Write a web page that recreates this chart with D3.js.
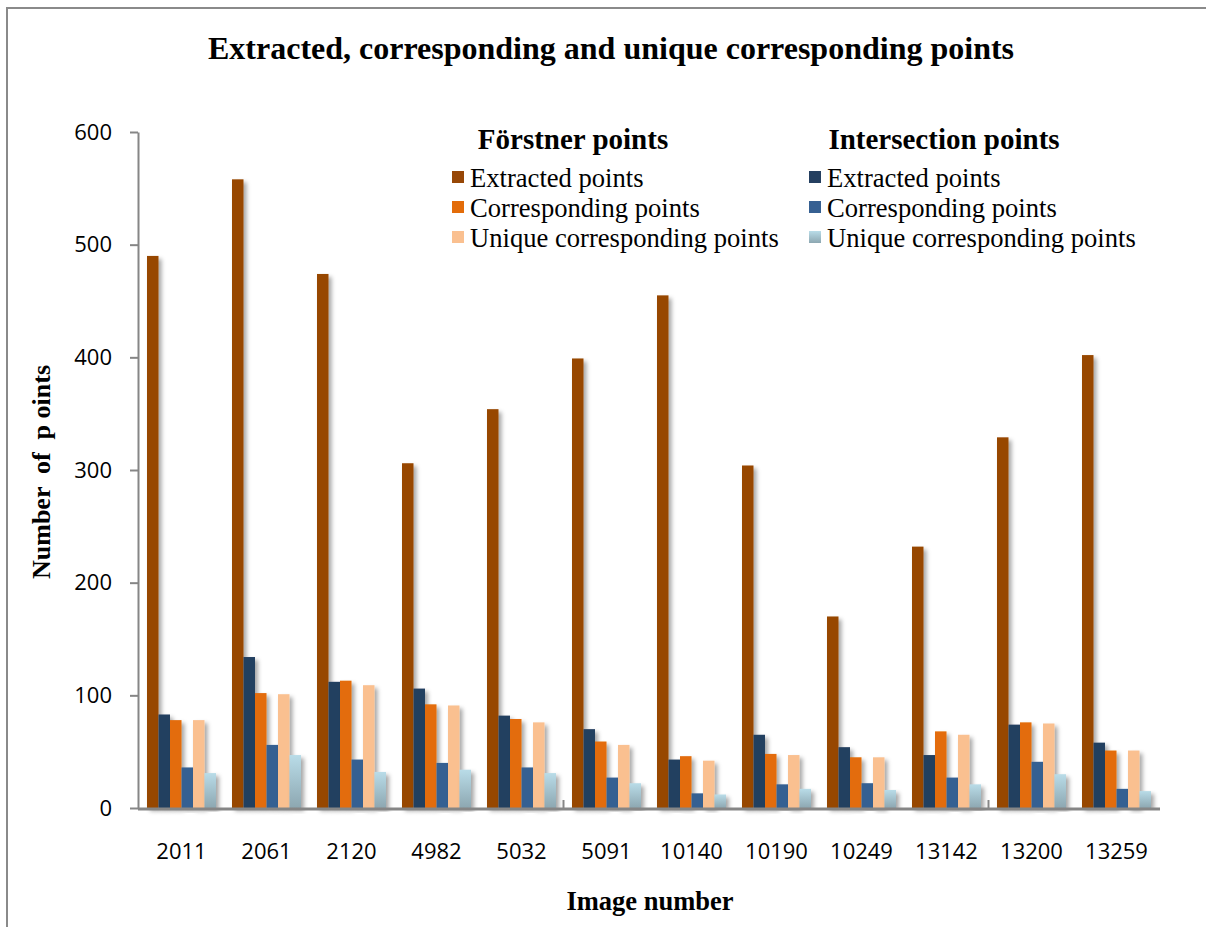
<!DOCTYPE html>
<html>
<head>
<meta charset="utf-8">
<script src="https://cdn.jsdelivr.net/npm/d3@7/dist/d3.min.js"></script>
<style>
  html, body { margin: 0; padding: 0; background: #fff; }
  svg { display: block; }
</style>
</head>
<body>
<script>
// Image numbers on the x axis
const categories = ["2011", "2061", "2120", "4982", "5032", "5091", "10140", "10190", "10249", "13142", "13200", "13259"];

// Förstner points
const forstnerExtracted     = [490, 558, 474, 306, 354, 399, 455, 304, 170, 232, 329, 402];
const forstnerCorresponding = [78, 102, 113, 92, 79, 59, 46, 48, 45, 68, 76, 51];
const forstnerUnique        = [78, 101, 109, 91, 76, 56, 42, 47, 45, 65, 75, 51];

// Intersection points
const intersectionExtracted     = [83, 134, 112, 106, 82, 70, 43, 65, 54, 47, 74, 58];
const intersectionCorresponding = [36, 56, 43, 40, 36, 27, 13, 21, 22, 27, 41, 17];
const intersectionUnique        = [31, 47, 32, 34, 31, 22, 12, 17, 16, 21, 30, 15];

const yTicks = [0, 100, 200, 300, 400, 500, 600];

// Bar order inside each group, left to right
const series = [
  { key: "fe", group: "Förstner points",     name: "Extracted points",             values: forstnerExtracted,          fill: "#974706" },
  { key: "ie", group: "Intersection points", name: "Extracted points",             values: intersectionExtracted,      fill: "#243F60" },
  { key: "fc", group: "Förstner points",     name: "Corresponding points",         values: forstnerCorresponding,      fill: "#E36C09" },
  { key: "ic", group: "Intersection points", name: "Corresponding points",         values: intersectionCorresponding,  fill: "#366092" },
  { key: "fu", group: "Förstner points",     name: "Unique corresponding points",  values: forstnerUnique,             fill: "#FAC090" },
  { key: "iu", group: "Intersection points", name: "Unique corresponding points",  values: intersectionUnique,         fill: "url(#lightBlueGrad)" }
];

const W = 1206, H = 927;
const svg = d3.select("body").append("svg").attr("width", W).attr("height", H);

const defs = svg.append("defs");
const grad = defs.append("linearGradient").attr("id", "lightBlueGrad")
  .attr("x1", 0).attr("y1", 0).attr("x2", 0).attr("y2", 1);
grad.append("stop").attr("offset", "0%").attr("stop-color", "#B9DCE8");
grad.append("stop").attr("offset", "100%").attr("stop-color", "#8DA7B1");

const shadow = defs.append("filter").attr("id", "barShadow")
  .attr("x", "-50%").attr("y", "-5%").attr("width", "220%").attr("height", "115%");
shadow.append("feDropShadow").attr("dx", 3).attr("dy", 3).attr("stdDeviation", 2.2)
  .attr("flood-color", "#000").attr("flood-opacity", 0.35);

// Chart-area frame (only top and left edges fall inside the canvas)
svg.append("path")
  .attr("d", `M7,${H} L7,8 L${W},8`)
  .attr("fill", "none").attr("stroke", "#8a8a8a").attr("stroke-width", 2);

const plot = { left: 139, right: 1159, top: 132, bottom: 808 };

const x = d3.scaleBand().domain(categories).range([plot.left, plot.right]).paddingInner(0).paddingOuter(0);
const groupPad = 8;
const xs = d3.scaleBand().domain(series.map(s => s.key))
  .range([groupPad, x.bandwidth() - groupPad]).padding(0);
const y = d3.scaleLinear().domain([0, 600]).range([plot.bottom, plot.top]);

// Bars
const groups = svg.append("g").selectAll("g").data(categories).join("g")
  .attr("transform", d => `translate(${x(d)},0)`);

groups.selectAll("rect")
  .data((c, i) => series.map(s => ({ s, v: s.values[i] })))
  .join("rect")
  .attr("x", d => xs(d.s.key))
  .attr("width", xs.bandwidth())
  .attr("y", d => y(d.v))
  .attr("height", d => y(0) - y(d.v))
  .attr("fill", d => d.s.fill)
  .attr("filter", "url(#barShadow)");

const sans = "'Open Sans', 'Noto Sans', sans-serif";

// Y axis
const yAxis = d3.axisLeft(y).tickValues(yTicks).tickSize(8).tickSizeOuter(0).tickPadding(18);
const gy = svg.append("g").attr("transform", `translate(${plot.left - 1},0)`).call(yAxis);
gy.select(".domain").attr("stroke", "#868686").attr("stroke-width", 2);
gy.selectAll(".tick line").attr("stroke", "#868686").attr("stroke-width", 2);
gy.selectAll(".tick text")
  .attr("font-family", sans)
  .attr("font-size", 22).attr("fill", "#000");

// X axis line with a tick mark every five categories
svg.append("line")
  .attr("x1", plot.left - 1).attr("x2", plot.right + 1)
  .attr("y1", plot.bottom + 1).attr("y2", plot.bottom + 1)
  .attr("stroke", "#868686").attr("stroke-width", 3);
const tickIdx = [5, 10];
svg.append("g").selectAll("line").data(tickIdx).join("line")
  .attr("x1", i => x(categories[i]) - 0.5).attr("x2", i => x(categories[i]) - 0.5)
  .attr("y1", plot.bottom).attr("y2", plot.bottom - 8)
  .attr("stroke", "#868686").attr("stroke-width", 2);

svg.append("g").selectAll("text").data(categories).join("text")
  .attr("x", d => x(d) + x.bandwidth() / 2)
  .attr("y", 859)
  .attr("text-anchor", "middle")
  .attr("font-family", sans)
  .attr("font-size", 22).attr("fill", "#000")
  .text(d => d);

// Title and axis titles
const serif = "'Liberation Serif', 'DejaVu Serif', serif";
svg.append("text").attr("x", 611).attr("y", 59).attr("text-anchor", "middle")
  .attr("font-family", serif).attr("font-weight", "bold").attr("font-size", 32)
  .text("Extracted, corresponding and unique corresponding points");

svg.append("text").attr("x", 650).attr("y", 910).attr("text-anchor", "middle")
  .attr("font-family", serif).attr("font-weight", "bold").attr("font-size", 26.5)
  .text("Image number");

svg.append("text")
  .attr("transform", "translate(50,472) rotate(-90)")
  .attr("text-anchor", "middle")
  .attr("font-family", serif).attr("font-weight", "bold").attr("font-size", 26)
  .attr("xml:space", "preserve")
  .text("Number  of  p oints");

// Legend: two columns, one per detector
const legendCols = [
  { title: "Förstner points",     titleX: 573, boxX: 452, keys: ["fe", "fc", "fu"] },
  { title: "Intersection points", titleX: 944, boxX: 809, keys: ["ie", "ic", "iu"] }
];
const rowY = [178, 208, 238];
const legend = svg.append("g");
legendCols.forEach(col => {
  legend.append("text").attr("x", col.titleX).attr("y", 149).attr("text-anchor", "middle")
    .attr("font-family", serif).attr("font-weight", "bold").attr("font-size", 29)
    .text(col.title);
  col.keys.forEach((k, j) => {
    const s = series.find(d => d.key === k);
    legend.append("rect").attr("x", col.boxX).attr("y", rowY[j] - 7)
      .attr("width", 12).attr("height", 12).attr("fill", s.fill);
    legend.append("text").attr("x", col.boxX + 18).attr("y", rowY[j] + 9)
      .attr("font-family", serif).attr("font-size", 26.6).attr("fill", "#000")
      .text(s.name);
  });
});
</script>
</body>
</html>
